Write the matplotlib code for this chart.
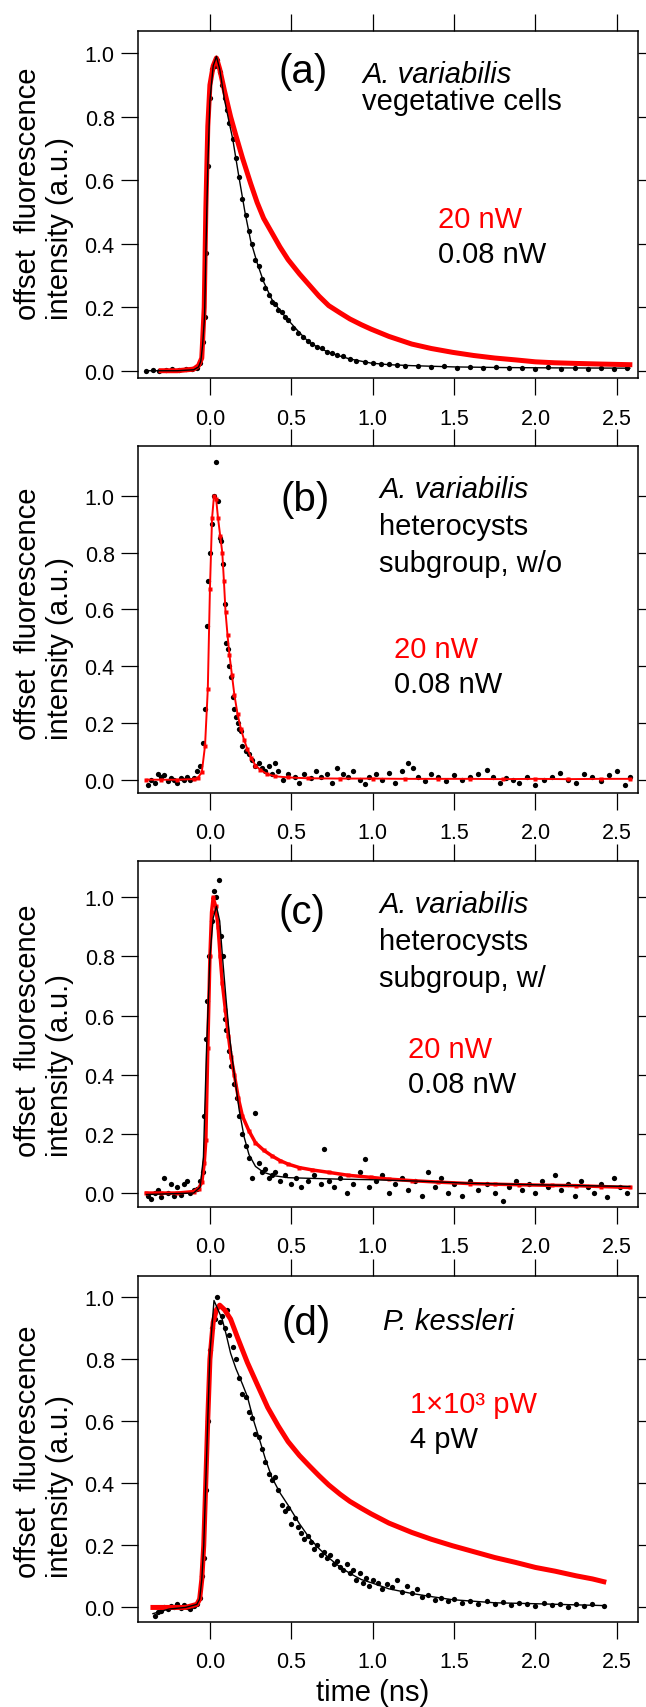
import matplotlib.pyplot as plt

plt.rcParams['font.family'] = ['Liberation Sans', 'DejaVu Sans']

# ---------------- panel (a): A. variabilis vegetative cells ----------------
red_a_t = [-0.30, -0.20, -0.10, -0.07, -0.05, -0.035, -0.025, -0.013, 0.0, 0.02, 0.04, 0.06, 0.09,
           0.127, 0.16, 0.20, 0.25, 0.29, 0.33, 0.38, 0.43, 0.48, 0.55, 0.61, 0.67, 0.73, 0.80,
           0.86, 0.93, 0.99, 1.10, 1.24, 1.36, 1.49, 1.62, 1.75, 1.88, 2.0, 2.12, 2.25, 2.40, 2.58]
red_a_y = [0.0, 0.0, 0.005, 0.016, 0.04, 0.20, 0.51, 0.77, 0.90, 0.96, 0.985, 0.95, 0.88,
           0.80, 0.74, 0.67, 0.59, 0.53, 0.48, 0.435, 0.39, 0.35, 0.305, 0.27, 0.235, 0.205, 0.182,
           0.163, 0.145, 0.131, 0.108, 0.084, 0.070, 0.058, 0.048, 0.040, 0.034, 0.028, 0.025, 0.023, 0.021, 0.019]
fit_a_t = [-0.39, -0.20, -0.10, -0.07, -0.056, -0.045, -0.033, -0.025, -0.013, 0.0, 0.02, 0.04, 0.06,
           0.089, 0.115, 0.14, 0.175, 0.215, 0.25, 0.29, 0.33, 0.38, 0.43, 0.48, 0.55, 0.61, 0.67,
           0.73, 0.80, 0.86, 0.93, 0.99, 1.10, 1.24, 1.5, 1.8, 2.1, 2.58]
fit_a_y = [0.0, 0.0, 0.003, 0.012, 0.03, 0.08, 0.17, 0.37, 0.645, 0.85, 0.96, 0.99, 0.95,
           0.855, 0.79, 0.73, 0.62, 0.50, 0.41, 0.34, 0.28, 0.225, 0.19, 0.16, 0.12, 0.089, 0.072,
           0.058, 0.046, 0.037, 0.03, 0.024, 0.019, 0.016, 0.012, 0.01, 0.009, 0.008]
dat_a_t = [-0.39, -0.35, -0.31, -0.27, -0.23, -0.19, -0.15, -0.11, -0.08, -0.06, -0.045, -0.033, -0.025,
           -0.013, 0.0, 0.015, 0.03, 0.045, 0.06, 0.075, 0.09, 0.105, 0.12, 0.14, 0.16, 0.18, 0.20,
           0.22, 0.24, 0.26, 0.28, 0.30, 0.32, 0.34, 0.36, 0.38, 0.40, 0.42, 0.44, 0.46, 0.48, 0.51,
           0.54, 0.57, 0.60, 0.63, 0.66, 0.69, 0.72, 0.75, 0.78, 0.82, 0.86, 0.90, 0.95, 1.0, 1.05,
           1.1, 1.15, 1.2, 1.28, 1.36, 1.44, 1.52, 1.6, 1.68, 1.76, 1.84, 1.92, 2.0, 2.08, 2.16,
           2.24, 2.32, 2.40, 2.48, 2.56]
dat_a_y = [0.0, 0.002, 0.0, 0.003, 0.004, 0.002, 0.005, 0.004, 0.01, 0.025, 0.09, 0.17, 0.37,
           0.645, 0.86, 0.95, 0.96, 0.98, 0.94, 0.90, 0.86, 0.82, 0.78, 0.73, 0.67, 0.61, 0.54,
           0.49, 0.44, 0.40, 0.35, 0.33, 0.29, 0.26, 0.24, 0.215, 0.21, 0.19, 0.185, 0.17, 0.16, 0.135,
           0.12, 0.105, 0.093, 0.085, 0.075, 0.07, 0.06, 0.055, 0.05, 0.045, 0.038, 0.032, 0.027, 0.024, 0.02,
           0.022, 0.017, 0.016, 0.015, 0.013, 0.014, 0.01, 0.012, 0.009, 0.012, 0.008, 0.01, 0.006, 0.011, 0.007,
           0.009, 0.005, 0.01, 0.007, 0.009]

# ---------------- panel (b): heterocysts subgroup, w/o ----------------
red_b_t = [-0.39, -0.30, -0.20, -0.10, -0.076, -0.05, -0.03, -0.013, 0.0, 0.013, 0.025, 0.038, 0.05,
           0.063, 0.076, 0.086, 0.096, 0.108, 0.12, 0.135, 0.15, 0.17, 0.19, 0.21, 0.23, 0.255, 0.28,
           0.31, 0.35, 0.40, 0.48, 0.6, 0.8, 1.0, 1.2, 1.4, 1.6, 1.8, 2.0, 2.2, 2.4, 2.58]
red_b_y = [0.0, 0.0, 0.0, 0.002, 0.005, 0.026, 0.12, 0.32, 0.67, 0.92, 1.0, 0.99, 0.92,
           0.86, 0.80, 0.70, 0.59, 0.51, 0.44, 0.37, 0.30, 0.23, 0.18, 0.14, 0.108, 0.075, 0.05,
           0.035, 0.02, 0.012, 0.008, 0.005, 0.004, 0.004, 0.003, 0.003, 0.003, 0.002, 0.003, 0.002, 0.003, 0.003]
dat_b_t = [-0.38, -0.36, -0.34, -0.32, -0.30, -0.28, -0.26, -0.24, -0.22, -0.20, -0.18, -0.16, -0.14,
           -0.12, -0.10, -0.08, -0.06, -0.045, -0.03, -0.02, -0.01, 0.0, 0.01, 0.025, 0.04, 0.05, 0.06,
           0.07, 0.08, 0.09, 0.10, 0.11, 0.12, 0.13, 0.14, 0.15, 0.16, 0.17, 0.18, 0.19, 0.20, 0.22,
           0.24, 0.26, 0.28, 0.30, 0.32, 0.34, 0.36, 0.38, 0.40, 0.42, 0.45, 0.48, 0.52, 0.55, 0.58,
           0.62, 0.65, 0.68, 0.72, 0.75, 0.78, 0.82, 0.85, 0.88, 0.92, 0.95, 0.98, 1.02, 1.06, 1.10,
           1.14, 1.18, 1.22, 1.25, 1.28, 1.32, 1.36, 1.40, 1.45, 1.50, 1.55, 1.60, 1.65, 1.70, 1.74,
           1.78, 1.82, 1.86, 1.90, 1.95, 2.0, 2.05, 2.10, 2.15, 2.20, 2.25, 2.30, 2.35, 2.40, 2.45,
           2.50, 2.55, 2.58]
dat_b_y = [-0.02, 0.0, -0.01, 0.02, 0.01, 0.015, -0.005, 0.005, 0.0, -0.01, 0.005, 0.0, 0.01,
           0.0, 0.005, 0.03, 0.05, 0.13, 0.25, 0.54, 0.70, 0.80, 0.90, 1.0, 1.12, 0.98, 0.85,
           0.84, 0.76, 0.62, 0.48, 0.46, 0.40, 0.36, 0.29, 0.25, 0.22, 0.20, 0.18, 0.17, 0.12, 0.10,
           0.09, 0.07, 0.05, 0.06, 0.04, 0.03, 0.05, 0.02, 0.06, 0.03, 0.0, 0.02, 0.01, -0.01, 0.02,
           0.005, 0.03, 0.01, 0.02, -0.01, 0.04, 0.02, 0.01, 0.03, 0.0, -0.015, 0.01, 0.02, 0.0, 0.025,
           -0.01, 0.03, 0.06, 0.04, 0.01, -0.005, 0.02, 0.01, -0.005, 0.015, 0.0, 0.01, 0.02, 0.035, 0.01,
           -0.01, 0.005, 0.0, -0.01, 0.01, -0.02, 0.0, 0.01, 0.025, 0.0, -0.01, 0.02, 0.01, -0.005, 0.015,
           0.03, -0.02, 0.01]

# ---------------- panel (c): heterocysts subgroup, w/ ----------------
red_c_t = [-0.39, -0.30, -0.20, -0.10, -0.07, -0.05, -0.035, -0.025, -0.013, 0.0, 0.01, 0.02, 0.035,
           0.05, 0.063, 0.076, 0.095, 0.114, 0.13, 0.15, 0.175, 0.2, 0.24, 0.28, 0.33, 0.38, 0.43,
           0.48, 0.55, 0.63, 0.73, 0.85, 0.99, 1.1, 1.24, 1.4, 1.6, 1.75, 1.9, 2.1, 2.25, 2.4, 2.58]
red_c_y = [0.0, 0.0, 0.0, 0.005, 0.015, 0.036, 0.10, 0.18, 0.49, 0.80, 0.95, 1.0, 0.97,
           0.90, 0.80, 0.71, 0.62, 0.53, 0.46, 0.40, 0.32, 0.26, 0.21, 0.17, 0.145, 0.126, 0.11,
           0.098, 0.086, 0.078, 0.07, 0.06, 0.053, 0.047, 0.042, 0.037, 0.032, 0.03, 0.028, 0.026, 0.025, 0.022, 0.019]
fit_c_t = [-0.39, -0.10, -0.06, -0.04, -0.02, 0.0, 0.02, 0.04, 0.06, 0.08, 0.10, 0.12, 0.15, 0.18,
           0.21, 0.24, 0.28, 0.33, 0.4, 0.48, 0.6, 0.8, 1.0, 1.3, 1.6, 2.0, 2.58]
fit_c_y = [-0.005, 0.0, 0.02, 0.12, 0.5, 0.8, 0.93, 0.97, 0.92, 0.78, 0.65, 0.53, 0.4, 0.28,
           0.19, 0.13, 0.09, 0.07, 0.058, 0.052, 0.05, 0.047, 0.045, 0.04, 0.033, 0.028, 0.022]
dat_c_t = [-0.38, -0.36, -0.34, -0.32, -0.30, -0.28, -0.26, -0.24, -0.22, -0.20, -0.18, -0.16, -0.14,
           -0.12, -0.10, -0.08, -0.06, -0.045, -0.035, -0.025, -0.015, -0.005, 0.01, 0.025, 0.04, 0.055,
           0.065, 0.08, 0.09, 0.10, 0.115, 0.13, 0.15, 0.165, 0.18, 0.20, 0.22, 0.24, 0.26, 0.28, 0.30,
           0.32, 0.34, 0.36, 0.38, 0.40, 0.43, 0.46, 0.50, 0.53, 0.56, 0.60, 0.64, 0.68, 0.70, 0.73,
           0.76, 0.80, 0.84, 0.88, 0.92, 0.95, 0.98, 1.02, 1.06, 1.10, 1.14, 1.18, 1.22, 1.26, 1.30,
           1.34, 1.38, 1.42, 1.46, 1.50, 1.55, 1.60, 1.65, 1.70, 1.75, 1.80, 1.84, 1.88, 1.92, 1.96,
           2.0, 2.04, 2.08, 2.12, 2.16, 2.20, 2.24, 2.28, 2.32, 2.36, 2.40, 2.44, 2.48, 2.52, 2.56]
dat_c_y = [-0.01, -0.02, 0.0, 0.01, -0.015, 0.05, 0.0, 0.03, -0.01, 0.02, -0.005, 0.03, 0.04,
           0.0, 0.01, 0.015, 0.04, 0.07, 0.26, 0.52, 0.65, 0.80, 0.92, 1.02, 1.0, 1.06,
           0.87, 0.80, 0.59, 0.55, 0.48, 0.43, 0.37, 0.32, 0.26, 0.20, 0.16, 0.12, 0.05, 0.27, 0.10,
           0.07, 0.08, 0.05, 0.06, 0.07, 0.04, 0.06, 0.03, 0.05, 0.02, 0.04, 0.06, 0.03, 0.15, 0.04,
           0.02, 0.05, 0.0, 0.03, 0.07, 0.115, 0.02, 0.04, 0.06, 0.0, 0.03, 0.05, 0.01, 0.04, -0.01,
           0.07, 0.02, 0.05, 0.0, 0.03, -0.01, 0.04, 0.01, 0.03, 0.0, -0.026, 0.02, 0.04, 0.01, 0.03,
           0.0, 0.04, 0.02, 0.06, 0.01, 0.03, -0.01, 0.04, 0.02, 0.0, 0.03, -0.015, 0.05, 0.02, 0.0]

# ---------------- panel (d): P. kessleri ----------------
red_d_t = [-0.35, -0.25, -0.15, -0.08, -0.063, -0.05, -0.038, -0.025, -0.013, 0.0, 0.02, 0.04, 0.06,
           0.09, 0.127, 0.17, 0.23, 0.29, 0.355, 0.42, 0.48, 0.55, 0.61, 0.67, 0.73, 0.80, 0.86,
           0.93, 0.99, 1.1, 1.24, 1.36, 1.49, 1.62, 1.75, 1.88, 2.0, 2.12, 2.25, 2.35, 2.42]
red_d_y = [0.0, 0.0, 0.0, 0.01, 0.027, 0.09, 0.2, 0.41, 0.61, 0.80, 0.92, 0.96, 0.975,
           0.96, 0.93, 0.87, 0.79, 0.72, 0.645, 0.585, 0.535, 0.49, 0.457, 0.425, 0.395, 0.365, 0.342,
           0.32, 0.302, 0.272, 0.242, 0.22, 0.199, 0.18, 0.161, 0.145, 0.129, 0.117, 0.102, 0.092, 0.083]
fit_d_t = [-0.35, -0.25, -0.15, -0.08, -0.063, -0.05, -0.038, -0.025, -0.013, 0.0, 0.025, 0.05,
           0.075, 0.1, 0.127, 0.16, 0.2, 0.23, 0.27, 0.30, 0.34, 0.38, 0.43, 0.48, 0.55, 0.61, 0.67,
           0.73, 0.80, 0.86, 0.93, 0.99, 1.1, 1.24, 1.36, 1.49, 1.62, 1.75, 2.0, 2.2, 2.42]
fit_d_y = [-0.02, -0.005, 0.0, 0.01, 0.027, 0.09, 0.2, 0.41, 0.61, 0.82, 0.99, 0.96,
           0.93, 0.88, 0.82, 0.77, 0.72, 0.68, 0.60, 0.55, 0.48, 0.42, 0.37, 0.33, 0.27, 0.225, 0.19,
           0.16, 0.13, 0.11, 0.09, 0.08, 0.06, 0.045, 0.035, 0.025, 0.02, 0.015, 0.012, 0.009, 0.006]
dat_d_t = [-0.34, -0.32, -0.30, -0.28, -0.26, -0.24, -0.22, -0.20, -0.18, -0.16, -0.14, -0.12, -0.10,
           -0.08, -0.063, -0.05, -0.038, -0.025, -0.013, 0.0, 0.015, 0.03, 0.045, 0.06, 0.075, 0.09,
           0.105, 0.12, 0.14, 0.16, 0.18, 0.20, 0.22, 0.24, 0.26, 0.28, 0.30, 0.32, 0.34, 0.36, 0.38,
           0.40, 0.42, 0.44, 0.46, 0.48, 0.50, 0.52, 0.54, 0.56, 0.58, 0.60, 0.62, 0.64, 0.66, 0.68,
           0.70, 0.72, 0.74, 0.76, 0.78, 0.80, 0.82, 0.84, 0.86, 0.88, 0.90, 0.92, 0.94, 0.96, 0.98,
           1.0, 1.03, 1.06, 1.09, 1.12, 1.15, 1.18, 1.21, 1.24, 1.27, 1.30, 1.34, 1.38, 1.42, 1.46,
           1.50, 1.55, 1.60, 1.65, 1.70, 1.75, 1.80, 1.85, 1.90, 1.95, 2.0, 2.05, 2.10, 2.15, 2.20,
           2.25, 2.30, 2.35, 2.42]
dat_d_y = [-0.027, -0.015, -0.01, 0.0, -0.005, 0.005, 0.0, 0.01, -0.003, 0.008, 0.0, -0.005, 0.005,
           0.01, 0.03, 0.1, 0.16, 0.38, 0.60, 0.83, 0.90, 0.93, 1.0, 0.92, 0.94, 0.90,
           0.96, 0.88, 0.84, 0.80, 0.74, 0.69, 0.68, 0.63, 0.61, 0.56, 0.55, 0.51, 0.47, 0.43, 0.41,
           0.42, 0.38, 0.33, 0.31, 0.32, 0.27, 0.29, 0.26, 0.24, 0.22, 0.23, 0.21, 0.19, 0.20, 0.17,
           0.18, 0.16, 0.17, 0.14, 0.15, 0.13, 0.12, 0.14, 0.11, 0.12, 0.09, 0.11, 0.08, 0.095, 0.07,
           0.09, 0.08, 0.06, 0.075, 0.065, 0.09, 0.05, 0.07, 0.045, 0.06, 0.035, 0.04, 0.025, 0.03, 0.02,
           0.028, 0.015, 0.022, 0.01, 0.02, 0.012, 0.018, 0.008, 0.015, 0.01, 0.005, 0.015, 0.008, 0.012, 0.0,
           0.01, 0.005, 0.012, 0.005]

panel_tags = ['(a)', '(b)', '(c)', '(d)']
species = [['A. variabilis', 'vegetative cells'],
           ['A. variabilis', 'heterocysts', 'subgroup, w/o'],
           ['A. variabilis', 'heterocysts', 'subgroup, w/'],
           ['P. kessleri']]
powers_hi = ['20 nW', '20 nW', '20 nW', '1\u00d710\u00b3 pW']
powers_lo = ['0.08 nW', '0.08 nW', '0.08 nW', '4 pW']

reds = [(red_a_t, red_a_y), (red_b_t, red_b_y), (red_c_t, red_c_y), (red_d_t, red_d_y)]
dats = [(dat_a_t, dat_a_y), (dat_b_t, dat_b_y), (dat_c_t, dat_c_y), (dat_d_t, dat_d_y)]
fits = [(fit_a_t, fit_a_y), None, (fit_c_t, fit_c_y), (fit_d_t, fit_d_y)]

# layout (figure fractions) and text placement (data coords)
bottoms = [0.7779, 0.5351, 0.2926, 0.04994]
heights = [0.2032, 0.2033, 0.2029, 0.2024]
ylims = [(-0.024, 1.069), (-0.047, 1.176), (-0.048, 1.124), (-0.046, 1.069)]
tag_xy = [(0.57, 0.943), (0.585, 0.988), (0.563, 0.952), (0.589, 0.917)]
sp_x = [0.934, 1.04, 1.04, 1.065]
sp_y = [[0.909, 0.824], [0.995, 0.865, 0.736], [0.949, 0.825, 0.701], [0.898]]
pw_x = [1.40, 1.128, 1.216, 1.229]
pw_y = [(0.452, 0.342), (0.432, 0.309), (0.459, 0.341), (0.629, 0.516)]
ylab_y = [0.17, 0.155, 0.147, 0.13]
red_lw = [3.6, 1.4, 2.5, 3.6]
red_ms = [0, 3.5, 3.0, 0]

fig = plt.figure(figsize=(6.46, 17.08), dpi=100)

for i in range(4):
    ax = fig.add_axes([0.2141, bottoms[i], 0.774, heights[i]])
    ax.set_xlim(-0.44, 2.632)
    ax.set_ylim(*ylims[i])

    dt, dy = dats[i]
    ax.plot(dt, dy, 'o', color='black', ms=3.8, mec='none', zorder=2)
    rt, ry = reds[i]
    ax.plot(rt, ry, '-', color='red', lw=red_lw[i], marker='s', ms=red_ms[i], mec='none', zorder=3)
    if fits[i] is not None:
        ft, fy = fits[i]
        ax.plot(ft, fy, '-', color='black', lw=1.0, zorder=4)

    ax.set_xticks([0.0, 0.5, 1.0, 1.5, 2.0, 2.5])
    ax.set_yticks([0.0, 0.2, 0.4, 0.6, 0.8, 1.0])
    ax.xaxis.set_major_formatter(plt.FormatStrFormatter('%.1f'))
    ax.yaxis.set_major_formatter(plt.FormatStrFormatter('%.1f'))
    ax.tick_params(direction='out', length=12, width=0.9, top=True, right=True, labelsize=15.5)
    ax.tick_params(axis='x', pad=9)
    ax.tick_params(axis='y', pad=5)
    for s in ax.spines.values():
        s.set_linewidth(1.1)

    ax.text(tag_xy[i][0], tag_xy[i][1], panel_tags[i], fontsize=29, ha='center', va='center')
    for j, line in enumerate(species[i]):
        ax.text(sp_x[i], sp_y[i][j], line, fontsize=21, ha='left', va='baseline',
                style='italic' if j == 0 else 'normal')
    ax.text(pw_x[i], pw_y[i][0], powers_hi[i], fontsize=21, color='red', ha='left', va='baseline')
    ax.text(pw_x[i], pw_y[i][1], powers_lo[i], fontsize=21, color='black', ha='left', va='baseline')

    ax.text(-0.1886, ylab_y[i], 'offset  fluorescence\nintensity (a.u.)', transform=ax.transAxes,
            rotation=90, fontsize=21, ha='center', va='bottom', multialignment='left', linespacing=1.2)

    if i == 3:
        ax.text(1.0, -0.203, 'time (ns)', transform=ax.get_xaxis_transform(),
                fontsize=21, ha='center', va='center')

fig.savefig('out.png', dpi=100)
print('Saved: out.png')
plt.close()
